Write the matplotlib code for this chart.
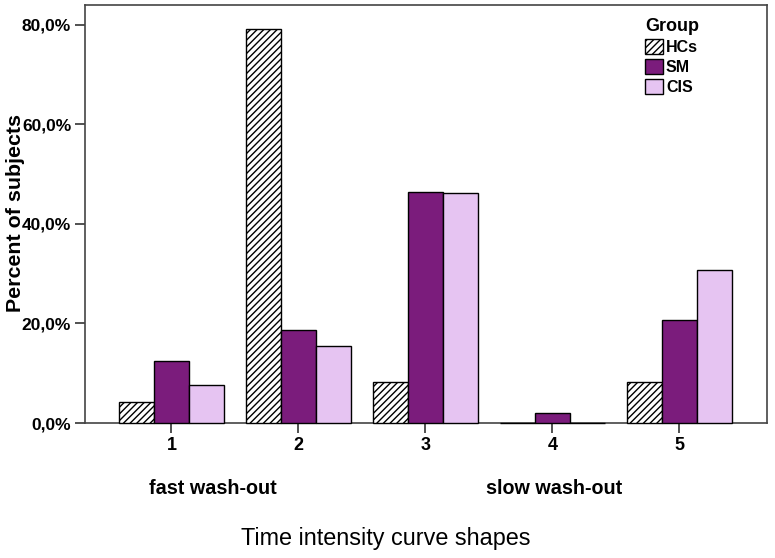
import numpy as np
import matplotlib
matplotlib.use('Agg')
from matplotlib import pyplot as plt
from matplotlib.ticker import FuncFormatter
from matplotlib.patches import Patch

plt.rcParams['font.family'] = ['Liberation Sans', 'DejaVu Sans']
plt.rcParams['hatch.linewidth'] = 1.0

shapes = [1, 2, 3, 4, 5]
groups = ['HCs', 'SM', 'CIS']
hcs = [4.2, 79.2, 8.3, 0.0, 8.3]
sm = [12.5, 18.7, 46.5, 2.1, 20.8]
cis = [7.7, 15.4, 46.2, 0.0, 30.8]
group_colors = ['white', '#7b1c7c', '#e6c4f2']
group_hatches = ['/////', None, None]
y_ticks = [0, 20, 40, 60, 80]


def main():
    fig = plt.figure(figsize=(7.75, 5.58), dpi=100)
    ax = fig.add_axes([0.1097, 0.2419, 0.8800, 0.7491])

    x = np.array(shapes)
    w = 0.275
    for i, vals in enumerate([hcs, sm, cis]):
        ax.bar(x + (i - 1) * w, vals, width=w, color=group_colors[i],
               hatch=group_hatches[i], edgecolor='black', linewidth=1.0,
               clip_on=False, zorder=3)

    ax.set_xlim(0.32, 5.69)
    ax.set_ylim(0, 84)
    ax.set_xticks(shapes)
    ax.set_xticklabels([str(s) for s in shapes], fontsize=13, fontweight='bold')
    ax.set_yticks(y_ticks)
    ax.yaxis.set_major_formatter(FuncFormatter(lambda v, p: '{:.1f}%'.format(v).replace('.', ',')))
    for lab in ax.get_yticklabels():
        lab.set_fontsize(12.5)
        lab.set_fontweight('bold')
    ax.tick_params(axis='both', direction='out', length=7, width=1.2, color='#333333', pad=3)
    for s in ax.spines.values():
        s.set_color('#444444')
        s.set_linewidth(1.2)

    fig.text(16 / 775, 1 - 213 / 558, 'Percent of subjects', ha='center', va='center',
             rotation=90, fontsize=15.4, fontweight='bold')

    fig.text(213 / 775, 1 - 488 / 558, 'fast wash-out', ha='center', va='center',
             fontsize=14.2, fontweight='bold')
    fig.text(554 / 775, 1 - 488 / 558, 'slow wash-out', ha='center', va='center',
             fontsize=14.2, fontweight='bold')
    fig.text(386 / 775, 1 - 538 / 558, 'Time intensity curve shapes', ha='center', va='center',
             fontsize=16.8)

    handles = [Patch(facecolor=group_colors[i], hatch=group_hatches[i], edgecolor='black',
                     linewidth=1.0, label=groups[i]) for i in range(3)]
    leg = ax.legend(handles=handles, title='Group', loc='upper left',
                    bbox_to_anchor=(0.812, 0.985), frameon=False,
                    prop={'weight': 'bold', 'size': 11.5}, handlelength=1.1, handleheight=1.1,
                    handletextpad=0.2, labelspacing=0.25, borderaxespad=0)
    leg.get_title().set_fontweight('bold')
    leg.get_title().set_fontsize(13)
    leg._legend_box.align = 'left'

    fig.savefig('out.png', dpi=100)


if __name__ == '__main__':
    main()
